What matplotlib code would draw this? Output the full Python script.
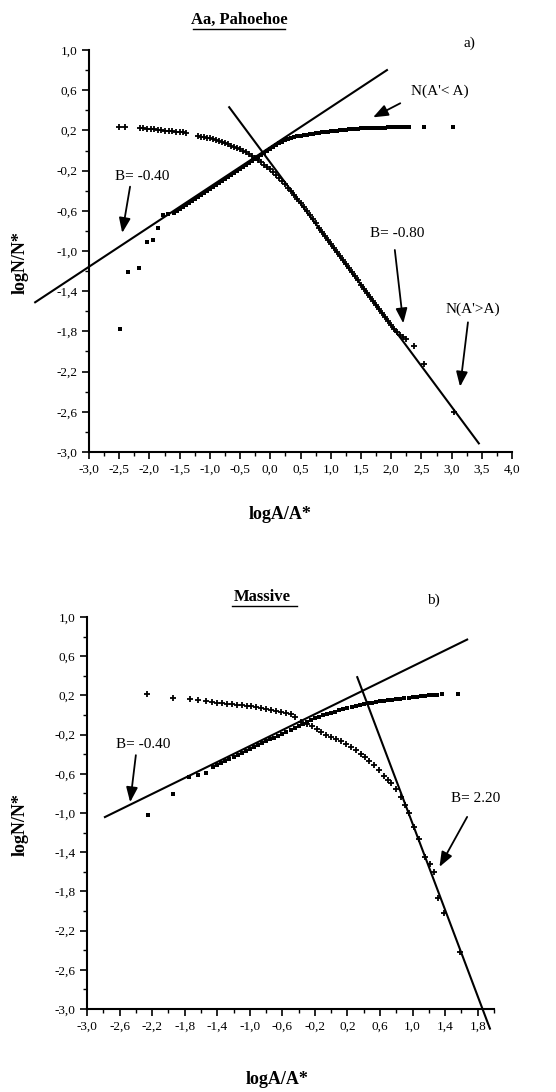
import numpy as np, matplotlib
matplotlib.use('Agg')
import matplotlib.pyplot as plt
from matplotlib.ticker import FixedLocator, FuncFormatter

plt.rcParams['font.family'] = ['Liberation Serif', 'DejaVu Serif']
plt.rcParams['axes.unicode_minus'] = False

# ---- panel a) Aa, Pahoehoe ----
# N(A'<A) squares
a_lt_x = [-2.49, -2.35, -2.17, -2.04, -1.94, -1.86, -1.77, -1.70,
          -1.60, -1.55, -1.50, -1.45, -1.40, -1.35, -1.30, -1.25, -1.20, -1.15, -1.10, -1.05,
          -1.00, -0.95, -0.90, -0.85, -0.80, -0.75, -0.70, -0.65, -0.60, -0.55, -0.50, -0.45,
          -0.40, -0.35, -0.30, -0.25, -0.20, -0.15, -0.10, -0.05, 0.00, 0.05, 0.10, 0.15,
          0.20, 0.25, 0.30, 0.35, 0.40, 0.45, 0.50, 0.55, 0.60, 0.65, 0.70, 0.75, 0.80,
          0.85, 0.90, 0.95, 1.00, 1.05, 1.10, 1.15, 1.20, 1.25, 1.30, 1.35, 1.40, 1.45,
          1.50, 1.55, 1.60, 1.65, 1.70, 1.75, 1.80, 1.85, 1.90, 1.95, 2.00, 2.05, 2.10,
          2.15, 2.20, 2.25, 2.30, 2.55, 3.03]
a_lt_y = [-1.78, -1.21, -1.17, -0.91, -0.89, -0.77, -0.64, -0.63,
          -0.62, -0.60, -0.58, -0.56, -0.54, -0.52, -0.50, -0.48, -0.46, -0.44, -0.42, -0.40,
          -0.38, -0.36, -0.34, -0.32, -0.30, -0.28, -0.26, -0.24, -0.22, -0.20, -0.185, -0.165,
          -0.145, -0.125, -0.105, -0.085, -0.065, -0.046, -0.026, -0.006, 0.015, 0.035, 0.055, 0.07,
          0.085, 0.10, 0.11, 0.12, 0.13, 0.14, 0.145, 0.15, 0.155, 0.16, 0.165, 0.17, 0.175,
          0.18, 0.183, 0.186, 0.19, 0.193, 0.196, 0.20, 0.203, 0.206, 0.21, 0.212, 0.215, 0.217,
          0.22, 0.221, 0.222, 0.223, 0.224, 0.225, 0.226, 0.227, 0.228, 0.229, 0.23, 0.23, 0.23,
          0.23, 0.23, 0.23, 0.23, 0.23, 0.23]
# N(A'>A) crosses
a_gt_x = [-2.50, -2.40, -2.16, -2.10, -2.04, -1.98, -1.92, -1.86, -1.80, -1.74, -1.68, -1.62,
          -1.56, -1.50, -1.45, -1.40, -1.20, -1.15, -1.10, -1.05, -1.00, -0.95, -0.90, -0.85,
          -0.80, -0.75, -0.70, -0.65, -0.60, -0.55, -0.50, -0.45, -0.40, -0.35, -0.30, -0.25,
          -0.20, -0.15, -0.10, -0.05, 0.00, 0.05, 0.10, 0.15, 0.20, 0.25, 0.30, 0.35, 0.40,
          0.45, 0.50, 0.55, 0.60, 0.65, 0.70, 0.75, 0.80, 0.85, 0.90, 0.95, 1.00, 1.05, 1.10,
          1.15, 1.20, 1.25, 1.30, 1.35, 1.40, 1.45, 1.50, 1.55, 1.60, 1.65, 1.70, 1.75, 1.80,
          1.85, 1.90, 1.95, 2.00, 2.05, 2.10, 2.15, 2.20, 2.25, 2.37, 2.55, 3.04]
a_gt_y = [0.23, 0.23, 0.22, 0.22, 0.215, 0.21, 0.21, 0.20, 0.20, 0.195, 0.19, 0.19,
          0.185, 0.18, 0.18, 0.175, 0.14, 0.135, 0.13, 0.125, 0.12, 0.11, 0.10, 0.09,
          0.08, 0.07, 0.06, 0.04, 0.03, 0.02, 0.01, 0.00, -0.01, -0.03, -0.05, -0.07,
          -0.09, -0.11, -0.14, -0.16, -0.18, -0.21, -0.24, -0.27, -0.30, -0.33, -0.37, -0.40, -0.44,
          -0.48, -0.52, -0.56, -0.60, -0.645, -0.685, -0.725, -0.77, -0.81, -0.85, -0.89, -0.93, -0.97, -1.01,
          -1.05, -1.09, -1.13, -1.17, -1.21, -1.25, -1.29, -1.34, -1.38, -1.42, -1.46, -1.50, -1.54, -1.58,
          -1.62, -1.66, -1.70, -1.74, -1.78, -1.81, -1.84, -1.86, -1.88, -1.95, -2.12, -2.60]
# fitted lines: slope, intercept, x-range
a_fit1 = (0.397, 0.034, -3.89, 1.93)
a_fit2 = (-0.81, -0.12, -0.68, 3.45)

# ---- panel b) Massive ----
b_lt_x = [-2.25, -1.94, -1.75, -1.64, -1.54,
          -1.45, -1.40, -1.35, -1.30, -1.25, -1.20, -1.15, -1.10, -1.05, -1.00, -0.95, -0.90,
          -0.85, -0.80, -0.75, -0.70, -0.65, -0.60, -0.55, -0.50, -0.45, -0.40, -0.35, -0.30,
          -0.25, -0.20, -0.15, -0.10, -0.05, 0.00, 0.05, 0.10, 0.15, 0.20, 0.25, 0.30, 0.35,
          0.40, 0.45, 0.50, 0.55, 0.60, 0.65, 0.70, 0.75, 0.80, 0.85, 0.90, 0.95, 1.00, 1.05,
          1.10, 1.15, 1.20, 1.25, 1.30, 1.36, 1.56]
b_lt_y = [-1.02, -0.81, -0.63, -0.61, -0.59,
          -0.53, -0.51, -0.49, -0.47, -0.45, -0.43, -0.41, -0.39, -0.37, -0.35, -0.33, -0.31,
          -0.29, -0.27, -0.25, -0.23, -0.21, -0.19, -0.17, -0.15, -0.13, -0.11, -0.09, -0.07,
          -0.05, -0.035, -0.02, -0.005, 0.01, 0.02, 0.035, 0.05, 0.06, 0.07, 0.08, 0.09, 0.10,
          0.11, 0.12, 0.125, 0.13, 0.14, 0.145, 0.15, 0.155, 0.16, 0.165, 0.17, 0.175, 0.18, 0.185,
          0.19, 0.195, 0.20, 0.203, 0.206, 0.21, 0.21]
b_gt_x = [-2.26, -1.94, -1.74, -1.64, -1.54, -1.46, -1.40, -1.34, -1.28, -1.22, -1.16, -1.10,
          -1.04, -0.98, -0.92, -0.86, -0.80, -0.74, -0.68, -0.62, -0.56, -0.50, -0.44, -0.37,
          -0.30, -0.24, -0.18, -0.12, -0.06, 0.00, 0.06, 0.12, 0.18, 0.24, 0.30, 0.36, 0.41,
          0.47, 0.53, 0.59, 0.65, 0.70, 0.74, 0.80, 0.86, 0.91, 0.96, 1.02, 1.08,
          1.15, 1.21, 1.26, 1.31, 1.38, 1.58]
b_gt_y = [0.21, 0.17, 0.16, 0.15, 0.14, 0.13, 0.125, 0.12, 0.115, 0.11, 0.105, 0.10,
          0.095, 0.09, 0.08, 0.07, 0.06, 0.05, 0.04, 0.03, 0.02, 0.01, -0.02, -0.07,
          -0.09, -0.11, -0.14, -0.17, -0.20, -0.22, -0.25, -0.27, -0.30, -0.33, -0.36, -0.40, -0.43,
          -0.47, -0.51, -0.56, -0.62, -0.66, -0.69, -0.76, -0.84, -0.92, -1.00, -1.14, -1.27,
          -1.45, -1.52, -1.60, -1.87, -2.02, -2.42]
b_fit1 = (0.407, 0.09, -2.78, 1.67)
b_fit2 = (-2.2, 1.09, 0.32, 1.95)

y_ticks = np.arange(-3.0, 1.01, 0.4)
y_minor = np.arange(-3.0, 1.01, 0.2)


def comma(v, pos):
    return f"{v:.1f}".replace('.', ',').replace('-0,0', '0,0')


def style(ax, xmin, xmax, xmaj, xminor, xl, yl):
    ax.set_xlim(xmin, xmax)
    ax.set_ylim(-3.0, 1.0)
    ax.spines[['top', 'right']].set_visible(False)
    ax.spines[['left', 'bottom']].set_linewidth(1.5)
    ax.xaxis.set_major_locator(FixedLocator(xmaj))
    ax.xaxis.set_minor_locator(FixedLocator(xminor))
    ax.yaxis.set_major_locator(FixedLocator(y_ticks))
    ax.yaxis.set_minor_locator(FixedLocator(y_minor))
    ax.xaxis.set_major_formatter(FuncFormatter(comma))
    ax.yaxis.set_major_formatter(FuncFormatter(comma))
    ax.tick_params(which='major', direction='out', length=5, width=1.2, labelsize=9.5)
    ax.tick_params(which='minor', direction='out', length=3, width=1.0)
    ax.set_xlabel('logA/A*', fontsize=13, fontweight='bold')
    ax.set_ylabel('logN/N*', fontsize=13, fontweight='bold')
    ax.xaxis.set_label_coords(*xl)
    ax.yaxis.set_label_coords(*yl)


def fit_line(ax, fit):
    b, c, x0, x1 = fit
    xs = np.array([x0, x1])
    ax.plot(xs, b * xs + c, color='black', lw=1.5, clip_on=False)


def note(ax, text, xy, xytext, tx):
    ax.annotate('', xy=xy, xytext=xytext, annotation_clip=False,
                arrowprops=dict(arrowstyle='-|>,head_length=0.9,head_width=0.35',
                                color='black', lw=1.3, shrinkA=0, shrinkB=0))
    ax.text(tx[0], tx[1], text, fontsize=11, ha='center', va='center', clip_on=False)


fig = plt.figure(figsize=(5.56, 10.92), dpi=100)
axa = fig.add_axes([0.160, 0.5861, 0.761, 0.3681])
axb = fig.add_axes([0.1565, 0.0760, 0.732, 0.3590])

# panel a
style(axa, -3.0, 4.0, np.arange(-3.0, 4.01, 0.5), np.arange(-3.0, 4.01, 0.25),
      (0.452, -0.135), (-0.142, 0.47))
axa.plot(a_lt_x, a_lt_y, 's', color='black', ms=3.4, mew=0)
axa.plot(a_gt_x, a_gt_y, '+', color='black', ms=4, mew=1.3)
fit_line(axa, a_fit1)
fit_line(axa, a_fit2)
note(axa, 'B= -0.40', (-2.45, -0.82), (-2.32, -0.36), (-2.12, -0.26))
note(axa, "N(A'< A)", (1.70, 0.33), (2.15, 0.47), (2.81, 0.59))
note(axa, 'B= -0.80', (2.20, -1.72), (2.06, -0.99), (2.10, -0.83))
note(axa, "N(A'>A)", (3.14, -2.35), (3.27, -1.71), (3.35, -1.58))
axa.text(3.30, 1.07, 'a)', fontsize=11, ha='center', va='center')
fig.text(239 / 556, 1 - 20 / 1092, 'Aa, Pahoehoe', fontsize=12, fontweight='bold',
         ha='center', va='center')
fig.add_artist(plt.Line2D([193 / 556, 285 / 556], [1 - 29 / 1092] * 2, color='black', lw=1.0))

# panel b
style(axb, -3.0, 2.0, np.arange(-3.0, 1.81, 0.4), np.arange(-3.0, 2.01, 0.2),
      (0.467, -0.158), (-0.1425, 0.47))
axb.plot(b_lt_x, b_lt_y, 's', color='black', ms=3.4, mew=0)
axb.plot(b_gt_x, b_gt_y, '+', color='black', ms=4, mew=1.3)
fit_line(axb, b_fit1)
fit_line(axb, b_fit2)
note(axb, 'B= -0.40', (-2.47, -0.89), (-2.40, -0.41), (-2.31, -0.30))
note(axb, 'B= 2.20', (1.33, -1.55), (1.67, -1.04), (1.77, -0.85))
axb.text(1.26, 1.17, 'b)', fontsize=11, ha='center', va='center', clip_on=False)
fig.text(262 / 556, 1 - 597 / 1092, 'Massive', fontsize=12, fontweight='bold',
         ha='center', va='center')
fig.add_artist(plt.Line2D([232 / 556, 297 / 556], [1 - 606 / 1092] * 2, color='black', lw=1.0))

fig.savefig('out.png', dpi=100)
